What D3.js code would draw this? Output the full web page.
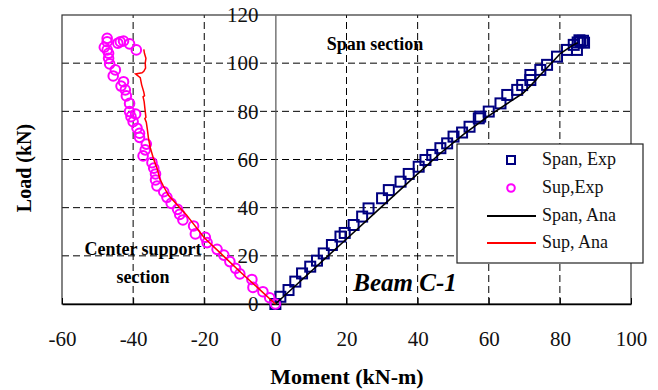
<!DOCTYPE html>
<html>
<head>
<meta charset="utf-8">
<script src="https://cdn.jsdelivr.net/npm/d3@7"></script>
<style>
  body { margin: 0; background: #fff; }
  svg { display: block; font-family: "Liberation Serif", "Times New Roman", serif; }
</style>
</head>
<body>
<div id="chart"></div>
<script>
// Span section, experimental (moment kN-m, load kN)
const spanExp = [
  [0, 0], [1.4, 3.0], [3.7, 5.8], [5.6, 9.3], [7.5, 12.7], [9.8, 15.5], [11.7, 18], [13.6, 21],
  [15.9, 24.5], [18.3, 28], [19.5, 29.5], [22, 32.8], [24.4, 36.3], [26.2, 39.7], [30, 43.9],
  [31.9, 47.3], [35.2, 50.8], [37.5, 54], [40.3, 57], [42.2, 59.8], [44.1, 61.9], [46.4, 64.7],
  [48.3, 66.7], [50.1, 69.5], [52.5, 71.2], [54.6, 73.6], [57.2, 77.1], [57.6, 77.8], [60, 79.9],
  [63.3, 83.3], [65.2, 86.8], [68, 88.9], [69.4, 90.9], [71.7, 93], [71.7, 95.1], [74.5, 97.2],
  [76.4, 99.3], [79.2, 102.7], [82, 105.5], [84.8, 105.5], [83.9, 107.6], [85, 108.6],
  [85.8, 108.9], [86.5, 109.3], [85.5, 109.5], [86.8, 108.5]
];

// Center support section, experimental
const supExp = [
  [0, 0], [-1.6, 2.6], [-3.5, 5.1], [-6.3, 6.9], [-6.6, 10.2], [-10, 12.5], [-11.2, 14.8],
  [-12.8, 17.6], [-14.5, 20.3], [-16.4, 22.7], [-19.2, 25.5], [-19.7, 27.7], [-22.5, 29.1],
  [-23, 32.4], [-26, 34.9], [-26.9, 37.2], [-27.5, 39.3], [-29.3, 41.8], [-30.5, 44.3],
  [-31.4, 46.6], [-33.3, 49], [-33.7, 51.5], [-33.7, 54], [-34.2, 56.4], [-34.7, 58.7],
  [-37.2, 61.5], [-36.6, 64], [-36.3, 66.4], [-38.2, 69.2], [-38.2, 70.9], [-38.9, 73],
  [-40, 75.7], [-40.6, 77.8], [-39.3, 78.9], [-41, 79.9], [-41, 83.3], [-41.9, 86.4],
  [-42.2, 88.9], [-43.4, 90.5], [-42.7, 92.3], [-45.6, 94.7], [-45, 97.2], [-46.6, 99.7],
  [-46.9, 102], [-46.9, 104.1], [-47.3, 105.5], [-48.1, 106.6], [-47.3, 108.9], [-47.3, 110.3],
  [-44.3, 108.3], [-43.6, 108.9], [-42.7, 109.2], [-41, 108], [-39.1, 105.5]
];

// Span section, analytical
const spanAna = [
  [0, 0], [10, 13.5], [20, 27], [30, 40.5], [40, 54], [46.4, 62.6], [53, 70.5], [60.4, 78.5],
  [66, 84], [69.6, 87.5], [72, 91], [74.5, 95.1], [80.2, 104.1], [83.8, 107.6], [85, 108.5]
];

// Center support section, analytical
const supAna = [
  [0, 0], [-5, 6.8], [-10, 13.5], [-15, 20.5], [-20, 27.5], [-25, 37], [-27.5, 41], [-30, 45],
  [-31.5, 49], [-32.5, 52], [-33.2, 56], [-34.2, 60], [-35.2, 65], [-35.7, 69], [-36, 72.5],
  [-36.3, 75.5], [-36.7, 77], [-36.4, 77.5], [-36.6, 80], [-36.9, 84], [-37.2, 86], [-36.8, 86.5],
  [-37, 88], [-37.6, 91], [-38, 94], [-39.3, 95.5], [-37.5, 96], [-37, 96.6], [-36.5, 98],
  [-36.6, 100], [-36.4, 102], [-36.8, 104], [-37, 105.7]
];

const xTicks = [-60, -40, -20, 0, 20, 40, 60, 80, 100];
const yTicks = [0, 20, 40, 60, 80, 100, 120];
const legendItems = ["Span, Exp", "Sup,Exp", "Span, Ana", "Sup, Ana"];

const width = 658, height = 390;
const margin = { top: 15, right: 27, bottom: 86, left: 62 };

const svg = d3.select("#chart").append("svg")
  .attr("width", width)
  .attr("height", height);

const x = d3.scaleLinear().domain([-60, 100]).range([margin.left, width - margin.right]);
const y = d3.scaleLinear().domain([0, 120]).range([height - margin.bottom, margin.top]);

// dashed grid
svg.append("g").selectAll("line")
  .data(xTicks.filter(d => d !== 0 && d !== -60 && d !== 100))
  .enter().append("line")
  .attr("x1", d => x(d)).attr("x2", d => x(d))
  .attr("y1", y(0)).attr("y2", y(120))
  .attr("stroke", "#000").attr("stroke-dasharray", "7,4");

svg.append("g").selectAll("line")
  .data(yTicks.filter(d => d !== 0 && d !== 120))
  .enter().append("line")
  .attr("x1", x(-60)).attr("x2", x(100))
  .attr("y1", d => y(d)).attr("y2", d => y(d))
  .attr("stroke", "#000").attr("stroke-dasharray", "7,4");

// frame
svg.append("rect")
  .attr("x", x(-60)).attr("y", y(120))
  .attr("width", x(100) - x(-60)).attr("height", y(0) - y(120))
  .attr("fill", "none").attr("stroke", "#333").attr("stroke-width", 1.2);

// x axis (bottom)
const xAxis = svg.append("g")
  .attr("transform", "translate(0," + y(0) + ")")
  .call(d3.axisBottom(x).tickValues(xTicks).tickFormat(d => String(d))
    .tickSizeInner(-6).tickSizeOuter(0).tickPadding(27));
xAxis.select(".domain").attr("stroke", "#000").attr("stroke-width", 1.5);
xAxis.selectAll("line").attr("stroke", "#000");
xAxis.selectAll("text").attr("font-family", "Liberation Serif").attr("font-size", 21).attr("fill", "#111");

// y axis at moment = 0
const yAxis = svg.append("g")
  .attr("transform", "translate(" + x(0) + ",0)")
  .call(d3.axisLeft(y).tickValues(yTicks).tickFormat(d => String(d)).tickSize(0).tickPadding(17));
yAxis.select(".domain").attr("stroke", "#555").attr("stroke-width", 1.2);
yAxis.selectAll("text").attr("font-family", "Liberation Serif").attr("font-size", 21).attr("fill", "#111");

// markers
svg.append("g").selectAll("rect")
  .data(spanExp)
  .enter().append("rect")
  .attr("x", d => x(d[0]) - 5).attr("y", d => y(d[1]) - 5)
  .attr("width", 10).attr("height", 10)
  .attr("fill", "none").attr("stroke", "#000080").attr("stroke-width", 2);

svg.append("g").selectAll("circle")
  .data(supExp)
  .enter().append("circle")
  .attr("cx", d => x(d[0])).attr("cy", d => y(d[1])).attr("r", 4.8)
  .attr("fill", "none").attr("stroke", "#ff00ff").attr("stroke-width", 2);

const line = d3.line().x(d => x(d[0])).y(d => y(d[1]));

svg.append("path").datum(spanAna)
  .attr("fill", "none").attr("stroke", "#000").attr("stroke-width", 1.6)
  .attr("d", line);

svg.append("path").datum(supAna)
  .attr("fill", "none").attr("stroke", "#ff0000").attr("stroke-width", 1.5)
  .attr("d", line);

// annotations
svg.append("text").attr("x", 375).attr("y", 50).attr("text-anchor", "middle")
  .attr("font-size", 18).attr("font-weight", "bold").text("Span section");
svg.append("text").attr("x", 143).attr("y", 255).attr("text-anchor", "middle")
  .attr("font-size", 18).attr("font-weight", "bold").text("Center support");
svg.append("text").attr("x", 143).attr("y", 283).attr("text-anchor", "middle")
  .attr("font-size", 18).attr("font-weight", "bold").text("section");
svg.append("text").attr("x", 405).attr("y", 291).attr("text-anchor", "middle")
  .attr("font-size", 25).attr("font-weight", "bold").attr("font-style", "italic").text("Beam C-1");

// axis titles
svg.append("text").attr("x", 347).attr("y", 384).attr("text-anchor", "middle")
  .attr("font-size", 22).attr("font-weight", "bold").text("Moment (kN-m)");
svg.append("text").attr("transform", "translate(31,168) rotate(-90)").attr("text-anchor", "middle")
  .attr("font-size", 20).attr("font-weight", "bold").text("Load (kN)");

// legend
const legend = svg.append("g");
legend.append("rect")
  .attr("x", 457).attr("y", 144).attr("width", 186).attr("height", 119)
  .attr("fill", "#fff").attr("stroke", "#222").attr("stroke-width", 1.2);

const rowY = [160, 188, 216, 243];
legend.append("rect").attr("x", 507).attr("y", rowY[0] - 4).attr("width", 8).attr("height", 8)
  .attr("fill", "none").attr("stroke", "#000080").attr("stroke-width", 2);
legend.append("circle").attr("cx", 511).attr("cy", rowY[1]).attr("r", 3.8)
  .attr("fill", "none").attr("stroke", "#ff00ff").attr("stroke-width", 2);
legend.append("line").attr("x1", 487).attr("x2", 536).attr("y1", rowY[2]).attr("y2", rowY[2])
  .attr("stroke", "#000").attr("stroke-width", 2);
legend.append("line").attr("x1", 487).attr("x2", 536).attr("y1", rowY[3]).attr("y2", rowY[3])
  .attr("stroke", "#ff0000").attr("stroke-width", 2);

legend.selectAll("text.lg")
  .data(legendItems)
  .enter().append("text")
  .attr("class", "lg")
  .attr("x", 542).attr("y", (d, i) => rowY[i] + 5)
  .attr("font-size", 18).attr("fill", "#111")
  .text(d => d);
</script>
</body>
</html>
